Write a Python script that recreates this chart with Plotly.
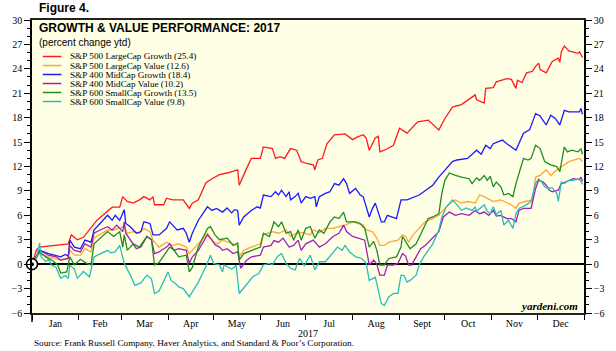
import plotly.graph_objects as go
import pandas as pd

# ---------------- data (day-of-year offset from 2017-01-01, percent change ytd) -------------
series_names = [
    "S&P 500 LargeCap Growth (25.4)",
    "S&P 500 LargeCap Value (12.6)",
    "S&P 400 MidCap Growth (18.4)",
    "S&P 400 MidCap Value (10.2)",
    "S&P 600 SmallCap Growth (13.5)",
    "S&P 600 SmallCap Value (9.8)",
]
series_colors = ["#FF1A1A", "#FFA630", "#1A1AFF", "#A020B4", "#1E8C1E", "#28BDBD"]

large_growth = [
    (0, 0), (3, 1.8), (5, 2.1), (14, 2.3), (24, 2.5), (26, 3.6), (30, 3.0), (34, 3.3), (39, 4.4),
    (43, 5.4), (48, 6.2), (53, 7.0), (58, 7.0), (60, 8.3), (63, 7.7), (67, 7.5), (71, 7.9),
    (74, 8.3), (78, 7.9), (80, 8.3), (81, 7.3), (87, 7.3), (89, 8.1), (93, 7.9), (100, 7.9),
    (104, 6.85), (106, 7.5), (110, 7.9), (115, 10.0), (119, 10.5), (124, 11.0), (129, 11.2),
    (136, 11.6), (137, 9.7), (142, 11.8), (145, 13.0), (151, 13.0), (153, 14.4), (159, 14.2),
    (161, 13.0), (164, 13.2), (167, 13.0), (171, 14.2), (175, 14.0), (178, 12.6), (181, 12.4),
    (186, 12.2), (187, 11.6), (189, 12.8), (192, 13.0), (195, 14.8), (200, 15.9), (207, 16.0),
    (212, 15.3), (215, 15.6), (219, 15.9), (221, 15.5), (223, 14.0), (227, 15.5), (229, 15.7),
    (230, 13.8), (233, 14.0), (239, 14.6), (243, 16.7), (248, 16.1), (251, 16.7), (255, 17.5),
    (262, 17.7), (269, 16.5), (273, 17.9), (278, 19.3), (284, 19.6), (287, 20.0), (293, 20.8),
    (294, 20.2), (299, 19.8), (300, 21.6), (305, 21.7), (307, 22.4), (314, 22.8), (317, 22.7),
    (320, 21.6), (321, 22.6), (324, 22.3), (327, 23.5), (331, 23.7), (333, 24.3), (335, 24.7),
    (336, 23.9), (340, 23.5), (344, 24.9), (348, 25.3), (349, 24.8), (350, 26.1), (352, 26.8),
    (355, 26.2), (361, 25.9), (362, 26.1), (364, 25.4),
]

large_value = [
    (0, 0), (5, 1.3), (11, 0.9), (16, 0.7), (19, 0.5), (23, 0.7), (25, 1.7), (28, 1.1), (32, 1.1),
    (35, 1.9), (39, 1.5), (41, 3.2), (45, 3.6), (50, 4.2), (54, 4.2), (58, 4.4), (61, 4.6),
    (63, 3.8), (67, 4.0), (71, 3.8), (74, 4.4), (78, 4.0), (80, 2.95), (84, 2.1), (89, 2.7),
    (93, 2.3), (97, 2.5), (102, 2.1), (104, 1.3), (106, 1.7), (110, 2.5), (116, 3.8), (120, 2.7),
    (123, 2.5), (126, 2.95), (132, 2.6), (136, 2.3), (137, 0.9), (140, 1.7), (145, 2.1),
    (151, 2.5), (153, 3.6), (159, 4.0), (163, 3.8), (168, 4.2), (171, 3.4), (175, 3.8),
    (179, 3.9), (184, 3.6), (186, 4.2), (190, 3.9), (194, 4.4), (199, 4.4), (203, 4.6),
    (207, 4.8), (212, 5.2), (216, 5.0), (219, 4.8), (221, 4.2), (225, 4.0), (228, 3.2),
    (230, 2.3), (233, 2.3), (236, 2.7), (242, 2.95), (245, 3.6), (247, 3.4), (249, 2.7),
    (252, 3.6), (256, 4.4), (260, 5.2), (265, 5.6), (269, 6.0), (273, 6.85), (278, 7.7),
    (280, 7.9), (284, 7.5), (288, 7.7), (293, 7.5), (296, 8.5), (299, 8.3), (302, 8.0),
    (305, 7.7), (310, 7.9), (314, 7.6), (317, 7.3), (320, 6.85), (322, 7.5), (326, 7.7),
    (331, 7.9), (333, 10.7), (336, 10.9), (340, 11.6), (343, 10.9), (347, 11.6), (349, 11.8),
    (352, 12.2), (355, 12.6), (362, 13.0), (364, 12.6),
]

mid_growth = [
    (0, 0), (5, 1.7), (11, 1.3), (16, 1.1), (19, 0.9), (22, 1.2), (24, 1.0), (25, 2.95), (28, 2.1),
    (32, 1.9), (35, 2.95), (39, 2.7), (41, 4.2), (45, 5.0), (50, 6.0), (53, 5.4), (55, 6.0),
    (58, 5.4), (60, 6.2), (61, 6.7), (62, 5.0), (65, 4.6), (69, 3.8), (72, 4.0), (74, 5.2),
    (78, 5.0), (80, 3.6), (84, 3.6), (89, 4.4), (91, 5.2), (93, 4.8), (96, 4.2), (100, 4.4),
    (102, 3.8), (104, 2.7), (106, 3.8), (110, 5.4), (116, 7.05), (119, 6.6), (122, 6.85),
    (126, 6.4), (129, 6.9), (132, 6.3), (134, 6.7), (136, 6.6), (137, 4.8), (140, 5.8),
    (145, 6.6), (149, 7.05), (151, 6.9), (153, 8.5), (158, 8.3), (161, 8.9), (163, 8.5),
    (165, 9.1), (168, 8.3), (170, 8.9), (171, 7.9), (174, 8.3), (176, 8.7), (178, 7.5),
    (181, 8.3), (184, 8.1), (187, 8.3), (188, 7.05), (190, 8.3), (194, 8.7), (197, 8.9),
    (200, 9.9), (203, 9.7), (206, 10.5), (208, 9.9), (210, 8.7), (214, 9.3), (217, 8.5),
    (219, 8.3), (223, 5.8), (225, 6.8), (227, 7.5), (229, 6.2), (231, 5.2), (233, 5.2),
    (235, 6.0), (241, 5.6), (244, 7.9), (248, 7.9), (256, 8.5), (262, 9.3), (265, 9.7),
    (269, 10.7), (278, 12.6), (281, 12.8), (288, 13.0), (294, 14.0), (297, 13.5), (300, 14.6),
    (303, 14.2), (305, 14.8), (311, 15.25), (314, 14.8), (317, 14.4), (320, 14.0), (325, 16.1),
    (329, 16.5), (333, 18.5), (336, 18.2), (340, 17.1), (343, 18.3), (346, 17.9), (349, 17.1),
    (352, 18.9), (355, 18.7), (362, 18.7), (363, 19.15), (364, 18.4),
]

mid_value = [
    (0, 0), (5, 1.7), (11, 1.1), (16, 0.9), (19, 0.5), (24, 0.7), (25, 2.3), (28, 1.7), (32, 1.5),
    (35, 2.5), (39, 2.1), (41, 3.8), (45, 4.2), (50, 4.6), (53, 4.2), (56, 4.8), (60, 4.0),
    (61, 5.2), (62, 3.8), (65, 2.95), (69, 1.9), (72, 2.1), (76, 3.4), (79, 3.0), (81, 1.3),
    (84, 1.5), (89, 2.1), (91, 2.5), (94, 1.7), (97, 1.9), (102, 1.7), (104, 0.1), (106, 0.9),
    (110, 1.7), (116, 3.6), (119, 2.95), (121, 2.4), (124, 2.1), (126, 1.7), (129, 1.9),
    (133, 1.3), (136, 1.5), (138, -0.5), (142, 0.5), (145, 0.9), (151, 1.1), (153, 2.1),
    (158, 2.3), (160, 2.9), (163, 2.7), (166, 3.2), (170, 2.1), (173, 2.3), (176, 2.95),
    (178, 1.7), (181, 2.5), (186, 2.95), (190, 2.1), (194, 2.5), (199, 3.4), (203, 3.8),
    (206, 4.8), (208, 4.0), (212, 3.4), (216, 3.2), (220, 2.95), (223, -0.1), (226, 0.5),
    (228, 0.0), (230, -1.35), (233, -1.35), (235, -0.1), (239, -0.1), (242, 0.1), (245, 1.3),
    (247, 1.0), (249, -0.1), (251, -0.1), (254, 0.9), (257, 1.9), (260, 2.3), (265, 3.2),
    (269, 4.0), (272, 5.8), (276, 6.4), (280, 6.0), (284, 6.2), (289, 6.0), (293, 6.6),
    (296, 6.2), (299, 6.4), (302, 6.0), (305, 6.6), (307, 5.9), (310, 6.0), (314, 5.6),
    (317, 5.6), (320, 5.2), (322, 6.6), (325, 6.85), (330, 6.85), (333, 9.3), (335, 10.3),
    (338, 10.1), (340, 9.7), (342, 9.1), (344, 8.9), (348, 9.1), (350, 9.9), (353, 10.1),
    (358, 10.5), (362, 10.4), (363, 10.7), (364, 10.2),
]

small_growth = [
    (0, 0), (5, 1.5), (9, 0.9), (13, 0.5), (17, -0.1), (19, -1.1), (23, -0.95), (25, 0.9),
    (28, -0.1), (32, 0.6), (36, 0.1), (39, -0.1), (41, 2.5), (45, 3.2), (50, 4.0), (54, 3.4),
    (58, 4.0), (60, 2.1), (61, 3.6), (63, 1.7), (67, 2.5), (71, 2.1), (76, 3.4), (79, 3.0),
    (81, -0.1), (84, 0.2), (89, 1.5), (91, 2.1), (94, 1.7), (97, 0.9), (102, 1.1), (104, -0.95),
    (106, -0.4), (110, 2.1), (116, 4.4), (118, 4.6), (121, 3.6), (124, 3.0), (129, 3.2),
    (133, 2.3), (136, 2.6), (137, 0.5), (140, 1.3), (145, 1.7), (151, 2.1), (153, 3.8),
    (157, 3.4), (160, 5.2), (163, 4.6), (165, 5.2), (168, 3.8), (171, 4.0), (173, 2.95),
    (176, 4.2), (178, 2.95), (181, 4.4), (184, 4.6), (187, 3.2), (190, 4.2), (193, 3.8),
    (197, 5.2), (200, 5.8), (203, 5.6), (206, 6.4), (208, 5.2), (212, 5.2), (214, 5.2),
    (217, 5.0), (220, 4.4), (223, 2.1), (226, 2.8), (228, 1.7), (230, -0.1), (233, -0.1),
    (236, 0.7), (241, 0.9), (244, 2.1), (245, 3.4), (248, 2.5), (250, 1.9), (254, 2.5),
    (258, 4.0), (262, 5.6), (265, 5.8), (269, 6.2), (271, 8.7), (273, 10.3), (276, 11.2),
    (280, 10.9), (284, 10.7), (289, 10.5), (291, 9.9), (294, 10.6), (296, 10.3), (299, 10.9),
    (301, 10.3), (303, 10.8), (305, 9.5), (307, 10.1), (310, 9.5), (312, 8.5), (315, 8.7),
    (318, 8.3), (320, 9.9), (323, 11.6), (325, 13.0), (328, 12.8), (330, 13.0), (333, 14.6),
    (336, 14.2), (339, 12.6), (343, 12.2), (347, 12.0), (349, 11.35), (350, 12.4), (352, 14.4),
    (354, 13.8), (357, 14.0), (361, 13.8), (363, 14.2), (364, 13.5),
]

small_value = [
    (0, 0), (3, 0.8), (5, 2.6), (6, 0.9), (9, 0.3), (11, 0.6), (13, -0.1), (16, -0.4), (19, -1.75),
    (22, -1.4), (24, -1.75), (25, -0.1), (28, -0.6), (30, -1.75), (34, -0.9), (38, -1.55),
    (41, 0.9), (45, 1.3), (50, 1.7), (52, 1.4), (55, 1.5), (58, 2.3), (61, 0.1), (65, -1.35),
    (68, -2.6), (72, -2.3), (76, -1.35), (79, -1.8), (81, -3.6), (84, -3.3), (87, -2.2),
    (90, -0.95), (92, -2.0), (95, -2.4), (97, -2.8), (100, -3.0), (104, -4.0), (106, -3.4),
    (110, -2.2), (115, -0.3), (118, 1.1), (120, 0.1), (124, -0.1), (126, -0.95), (127, -0.1),
    (132, -0.6), (135, -0.2), (137, -3.6), (142, -2.4), (146, -1.55), (150, -1.15), (153, -0.1),
    (157, 0.1), (159, -0.1), (162, 0.9), (165, 1.3), (168, 0.1), (171, -0.5), (174, -0.7),
    (177, 0.7), (180, -0.2), (184, 1.1), (187, -0.7), (190, 0.3), (194, 0.3), (199, 1.5),
    (202, 2.1), (205, 1.7), (207, 2.3), (210, 1.5), (214, 0.9), (218, 0.7), (221, 0.1),
    (223, -2.0), (227, -1.6), (229, -3.2), (231, -4.85), (233, -5.05), (236, -4.0), (239, -3.6),
    (242, -3.6), (244, -1.35), (246, -1.4), (248, -2.2), (250, -2.0), (254, -1.35), (256, -0.1),
    (259, 0.9), (262, 1.7), (265, 2.5), (269, 4.2), (271, 5.8), (274, 7.05), (278, 7.9),
    (280, 7.5), (284, 6.6), (287, 6.9), (291, 6.6), (293, 7.05), (294, 6.5), (299, 7.3),
    (301, 6.5), (303, 6.2), (305, 7.05), (307, 6.1), (310, 6.6), (312, 4.8), (315, 5.4),
    (318, 4.4), (320, 6.2), (322, 6.85), (326, 7.2), (330, 7.7), (333, 9.9), (335, 10.5),
    (337, 10.1), (339, 9.5), (341, 9.3), (344, 9.4), (347, 8.7), (348, 7.7), (350, 10.1),
    (352, 9.9), (355, 10.3), (358, 10.3), (362, 10.5), (364, 9.8),
]

all_series = [large_growth, large_value, mid_growth, mid_value, small_growth, small_value]

month_labels = ["Jan", "Feb", "Mar", "Apr", "May", "Jun", "Jul", "Aug", "Sept", "Oct", "Nov", "Dec"]
y_ticks = [-6, -3, 0, 3, 6, 9, 12, 15, 18, 21, 24, 27, 30]

# ---------------- figure ----------------
base = pd.Timestamp("2017-01-01")
W, H = 616, 351
ML, MR, MT, MB = 28, 24, 20, 38
PW, PH = W - ML - MR, H - MT - MB


def px_x(px):
    return (px - ML) / PW


def px_y(py):
    return (H - MB - py) / PH


fig = go.Figure()
for name, color, pts in zip(series_names, series_colors, all_series):
    days = [p[0] for p in pts]
    vals = [p[1] for p in pts]
    dates = base + pd.to_timedelta(days, unit="D")
    fig.add_trace(go.Scatter(x=dates, y=vals, mode="lines", name=name,
                             line=dict(color=color, width=1.3), showlegend=False,
                             hoverinfo="skip"))

# dummy trace for right axis
fig.add_trace(go.Scatter(x=[base], y=[0], yaxis="y2", mode="markers",
                         marker=dict(opacity=0), showlegend=False, hoverinfo="skip"))

# origin bullseye
fig.add_trace(go.Scatter(x=[base], y=[0], mode="markers", cliponaxis=False,
                         marker=dict(size=11, color="white", line=dict(color="black", width=1.6)),
                         showlegend=False, hoverinfo="skip"))
fig.add_trace(go.Scatter(x=[base], y=[0], mode="markers", cliponaxis=False,
                         marker=dict(size=4, color="black"),
                         showlegend=False, hoverinfo="skip"))

month_starts = [pd.Timestamp(2017, m, 1) for m in range(1, 13)] + [pd.Timestamp(2018, 1, 1)]
month_mids = [s + (e - s) / 2 for s, e in zip(month_starts[:-1], month_starts[1:])]

serif = "Liberation Serif, Times New Roman, serif"
sans = "Liberation Sans, Arial, sans-serif"

fig.update_layout(
    width=W, height=H,
    margin=dict(l=ML, r=MR, t=MT, b=MB),
    paper_bgcolor="white",
    plot_bgcolor="#FFFFE5",
    showlegend=False,
    xaxis=dict(
        range=[base, pd.Timestamp("2018-01-01")],
        tickmode="array", tickvals=month_mids, ticktext=month_labels,
        ticks="", tickfont=dict(family=serif, size=10, color="black"),
        showgrid=False, zeroline=False,
        showline=True, linecolor="#222222", linewidth=2, mirror=True,
        minor=dict(tickmode="array", tickvals=month_starts, ticks="outside",
                   ticklen=5, tickwidth=1, tickcolor="black", showgrid=False),
    ),
    yaxis=dict(
        range=[-6, 30], tickmode="array", tickvals=y_ticks,
        ticks="outside", ticklen=6, tickwidth=1, tickcolor="black",
        tickfont=dict(family=serif, size=10, color="black"),
        showgrid=False, showline=True, linecolor="black", linewidth=1.5,
        zeroline=True, zerolinecolor="black", zerolinewidth=1.5,
        minor=dict(dtick=1, ticks="outside", ticklen=3, tickcolor="black", showgrid=False),
    ),
    yaxis2=dict(
        range=[-6, 30], overlaying="y", side="right", tickmode="array", tickvals=y_ticks,
        ticks="outside", ticklen=6, tickwidth=1, tickcolor="black",
        tickfont=dict(family=serif, size=10, color="black"),
        showgrid=False, showline=True, linecolor="black", linewidth=1.5, zeroline=False,
        minor=dict(dtick=1, ticks="outside", ticklen=3, tickcolor="black", showgrid=False),
    ),
)

annotations = [
    dict(text="<b>Figure 4.</b>", x=px_x(33), y=px_y(8), xanchor="left", yanchor="middle",
         font=dict(family=sans, size=12, color="black")),
    dict(text="<b>GROWTH & VALUE PERFORMANCE: 2017</b>", x=px_x(33), y=px_y(28.5),
         xanchor="left", yanchor="middle", font=dict(family=sans, size=12, color="black")),
    dict(text="(percent change ytd)", x=px_x(33), y=px_y(42.5), xanchor="left", yanchor="middle",
         font=dict(family=sans, size=10, color="black")),
    dict(text="<b><i>yardeni.com</i></b>", x=px_x(588), y=px_y(306), xanchor="right",
         yanchor="middle", font=dict(family=serif, size=11, color="black")),
    dict(text="2017", x=0.5, y=px_y(333), xanchor="center", yanchor="middle",
         font=dict(family=serif, size=10, color="black")),
    dict(text="Source: Frank Russell Company, Haver Analytics, and Standard & Poor\u2019s Corporation.",
         x=px_x(28), y=px_y(343.5), xanchor="left", yanchor="middle",
         font=dict(family=serif, size=9.2, color="black")),
]
shapes = [
    # longer tick mark at the start of the year
    dict(type="line", xref="paper", yref="paper", x0=0, x1=0, y0=0, y1=px_y(322),
         line=dict(color="black", width=1.5)),
]
for i, (name, color) in enumerate(zip(series_names, series_colors)):
    yy = 56.5 + i * 9.0
    annotations.append(dict(text=name, x=px_x(65), y=px_y(yy), xanchor="left", yanchor="middle",
                            font=dict(family=serif, size=9.2, color="black")))
    shapes.append(dict(type="line", xref="paper", yref="paper", x0=px_x(39), x1=px_x(58),
                       y0=px_y(yy), y1=px_y(yy), line=dict(color=color, width=1.5)))

for a in annotations:
    a.update(xref="paper", yref="paper", showarrow=False)

fig.update_layout(annotations=annotations, shapes=shapes)
fig.write_html("out.html")
